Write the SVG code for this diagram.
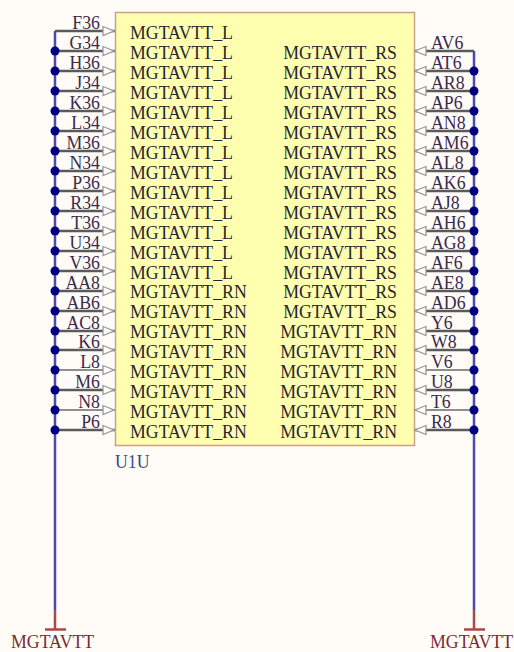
<svg xmlns="http://www.w3.org/2000/svg" width="514" height="652" viewBox="0 0 514 652">
<style>
text{font-family:"Liberation Serif","Times New Roman",serif;font-size:17.8px}
.n{fill:#26262e}
.p{fill:#3a2a4a;text-anchor:end}
.d{fill:#7a2a30}
.u{fill:#3a4a8a}
.w{stroke:#5a5a5a;stroke-width:2.500;fill:none}
.t{stroke:#222;stroke-width:1.200;fill:none}
.b{stroke:#4a4ab0;stroke-width:2.500;fill:none}
.r{stroke:#a84a4a;stroke-width:2.500;fill:none}
.a{stroke:#9a9a9a;stroke-width:1.300;fill:#fffdf8}
.j{fill:#000080}
</style>
<defs>
<circle id="j" r="4.500" class="j"/>
<path id="al" class="a" d="M103 -4.500L114 0L103 4.500Z"/>
<path id="ar" class="a" d="M426 -4.500L415 0L426 4.500Z"/>
</defs>
<rect width="514" height="652" fill="#fffcf8"/>
<g id="connectors">
<path class="w" d="M55 31H115M55 51H115M55 71H115M55 91H115M55 111H115M55 131H115M55 151H115M55 171H115M55 191H115M55 211H115M55 231H115M55 251H115M55 271H115M55 291H115M55 311H115M55 331H115M55 350H115M55 390H115M55 430H115"/>
<path class="t" d="M55 370H115M55 410H115M414 370H474M414 410H474"/>
<path class="w" d="M414 51H474M414 71H474M414 91H474M414 111H474M414 131H474M414 151H474M414 171H474M414 191H474M414 211H474M414 231H474M414 251H474M414 271H474M414 291H474M414 311H474M414 331H474M414 350H474M414 390H474M414 430H474"/>
<path class="b" d="M55 31V610M474 51V610"/>
<path class="r" d="M55 610V629M474 610V629M45 629.500H66M464 629.500H485"/>
<g>
<use href="#j" x="55" y="51"/><use href="#j" x="55" y="71"/><use href="#j" x="55" y="91"/><use href="#j" x="55" y="111"/><use href="#j" x="55" y="131"/><use href="#j" x="55" y="151"/><use href="#j" x="55" y="171"/><use href="#j" x="55" y="191"/><use href="#j" x="55" y="211"/><use href="#j" x="55" y="231"/><use href="#j" x="55" y="251"/><use href="#j" x="55" y="271"/><use href="#j" x="55" y="291"/><use href="#j" x="55" y="311"/><use href="#j" x="55" y="331"/><use href="#j" x="55" y="350"/><use href="#j" x="55" y="370"/><use href="#j" x="55" y="390"/><use href="#j" x="55" y="410"/><use href="#j" x="55" y="430"/>
<use href="#j" x="474" y="71"/><use href="#j" x="474" y="91"/><use href="#j" x="474" y="111"/><use href="#j" x="474" y="131"/><use href="#j" x="474" y="151"/><use href="#j" x="474" y="171"/><use href="#j" x="474" y="191"/><use href="#j" x="474" y="211"/><use href="#j" x="474" y="231"/><use href="#j" x="474" y="251"/><use href="#j" x="474" y="271"/><use href="#j" x="474" y="291"/><use href="#j" x="474" y="311"/><use href="#j" x="474" y="331"/><use href="#j" x="474" y="350"/><use href="#j" x="474" y="370"/><use href="#j" x="474" y="390"/><use href="#j" x="474" y="410"/><use href="#j" x="474" y="430"/>
</g>
</g>
<g id="U1U">
<rect x="115.500" y="12.500" width="299" height="433" fill="#ffffb0" stroke="#c8a088" stroke-width="1.500"/>
<text class="u" x="115" y="468">U1U</text>
<g class="n">
<text x="130" y="39">MGTAVTT_L</text>
<text x="130" y="59">MGTAVTT_L</text>
<text x="130" y="79">MGTAVTT_L</text>
<text x="130" y="99">MGTAVTT_L</text>
<text x="130" y="119">MGTAVTT_L</text>
<text x="130" y="139">MGTAVTT_L</text>
<text x="130" y="159">MGTAVTT_L</text>
<text x="130" y="179">MGTAVTT_L</text>
<text x="130" y="199">MGTAVTT_L</text>
<text x="130" y="219">MGTAVTT_L</text>
<text x="130" y="239">MGTAVTT_L</text>
<text x="130" y="259">MGTAVTT_L</text>
<text x="130" y="279">MGTAVTT_L</text>
<text x="130" y="298">MGTAVTT_RN</text>
<text x="130" y="318">MGTAVTT_RN</text>
<text x="130" y="338">MGTAVTT_RN</text>
<text x="130" y="358">MGTAVTT_RN</text>
<text x="130" y="378">MGTAVTT_RN</text>
<text x="130" y="398">MGTAVTT_RN</text>
<text x="130" y="418">MGTAVTT_RN</text>
<text x="130" y="438">MGTAVTT_RN</text>
</g>
<g class="n" text-anchor="end">
<text x="397" y="59">MGTAVTT_RS</text>
<text x="397" y="79">MGTAVTT_RS</text>
<text x="397" y="99">MGTAVTT_RS</text>
<text x="397" y="119">MGTAVTT_RS</text>
<text x="397" y="139">MGTAVTT_RS</text>
<text x="397" y="159">MGTAVTT_RS</text>
<text x="397" y="179">MGTAVTT_RS</text>
<text x="397" y="199">MGTAVTT_RS</text>
<text x="397" y="219">MGTAVTT_RS</text>
<text x="397" y="239">MGTAVTT_RS</text>
<text x="397" y="259">MGTAVTT_RS</text>
<text x="397" y="279">MGTAVTT_RS</text>
<text x="397" y="298">MGTAVTT_RS</text>
<text x="397" y="318">MGTAVTT_RS</text>
<text x="397" y="338">MGTAVTT_RN</text>
<text x="397" y="358">MGTAVTT_RN</text>
<text x="397" y="378">MGTAVTT_RN</text>
<text x="397" y="398">MGTAVTT_RN</text>
<text x="397" y="418">MGTAVTT_RN</text>
<text x="397" y="438">MGTAVTT_RN</text>
</g>
<g class="p">
<text x="100" y="29">F36</text>
<text x="100" y="49">G34</text>
<text x="100" y="69">H36</text>
<text x="100" y="89">J34</text>
<text x="100" y="109">K36</text>
<text x="100" y="129">L34</text>
<text x="100" y="149">M36</text>
<text x="100" y="169">N34</text>
<text x="100" y="189">P36</text>
<text x="100" y="209">R34</text>
<text x="100" y="229">T36</text>
<text x="100" y="249">U34</text>
<text x="100" y="269">V36</text>
<text x="100" y="289">AA8</text>
<text x="100" y="309">AB6</text>
<text x="100" y="329">AC8</text>
<text x="100" y="348">K6</text>
<text x="100" y="368">L8</text>
<text x="100" y="388">M6</text>
<text x="100" y="408">N8</text>
<text x="100" y="428">P6</text>
</g>
<g class="p" style="text-anchor:start">
<text x="431" y="49">AV6</text>
<text x="431" y="69">AT6</text>
<text x="431" y="89">AR8</text>
<text x="431" y="109">AP6</text>
<text x="431" y="129">AN8</text>
<text x="431" y="149">AM6</text>
<text x="431" y="169">AL8</text>
<text x="431" y="189">AK6</text>
<text x="431" y="209">AJ8</text>
<text x="431" y="229">AH6</text>
<text x="431" y="249">AG8</text>
<text x="431" y="269">AF6</text>
<text x="431" y="289">AE8</text>
<text x="431" y="309">AD6</text>
<text x="431" y="329">Y6</text>
<text x="431" y="348">W8</text>
<text x="431" y="368">V6</text>
<text x="431" y="388">U8</text>
<text x="431" y="408">T6</text>
<text x="431" y="428">R8</text>
</g>
<g>
<use href="#al" y="31"/><use href="#al" y="51"/><use href="#al" y="71"/><use href="#al" y="91"/><use href="#al" y="111"/><use href="#al" y="131"/><use href="#al" y="151"/><use href="#al" y="171"/><use href="#al" y="191"/><use href="#al" y="211"/><use href="#al" y="231"/><use href="#al" y="251"/><use href="#al" y="271"/><use href="#al" y="291"/><use href="#al" y="311"/><use href="#al" y="331"/><use href="#al" y="350"/><use href="#al" y="370"/><use href="#al" y="390"/><use href="#al" y="410"/><use href="#al" y="430"/>
<use href="#ar" y="51"/><use href="#ar" y="71"/><use href="#ar" y="91"/><use href="#ar" y="111"/><use href="#ar" y="131"/><use href="#ar" y="151"/><use href="#ar" y="171"/><use href="#ar" y="191"/><use href="#ar" y="211"/><use href="#ar" y="231"/><use href="#ar" y="251"/><use href="#ar" y="271"/><use href="#ar" y="291"/><use href="#ar" y="311"/><use href="#ar" y="331"/><use href="#ar" y="350"/><use href="#ar" y="370"/><use href="#ar" y="390"/><use href="#ar" y="410"/><use href="#ar" y="430"/>
</g>
</g>
<g id="pwr1"><text class="d" x="11" y="648">MGTAVTT</text></g>
<g id="pwr2"><text class="d" x="430" y="648">MGTAVTT</text></g>
</svg>
